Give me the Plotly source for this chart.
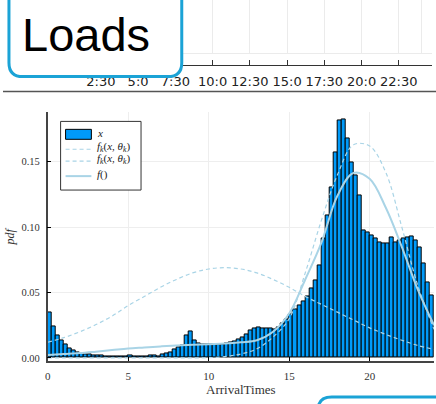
import plotly.graph_objects as go

W, H = 436, 404

# Arrival-time histogram (pdf normalised), 0.25 h bins over 0..24 h
bin_start = 0.0
bin_width = 0.25
pdf_values = [
    0.035, 0.024, 0.017, 0.013, 0.010, 0.0075, 0.0058, 0.0045, 0.0038,
    0.003, 0.0028, 0.0022, 0.002, 0.0018, 0.0015, 0.0014, 0.0012, 0.0012, 0.0011, 0.001,
    0.0018, 0.0011, 0.0009, 0.001, 0.0012, 0.0022, 0.0016, 0.0015,
    0.0025, 0.0035, 0.0045, 0.0065, 0.0080, 0.0092,
    0.0175, 0.0205, 0.0137,
    0.0112, 0.0105, 0.0102, 0.0101, 0.0101, 0.0103, 0.0106, 0.0110, 0.0118, 0.0128, 0.0140,
    0.0160, 0.0182, 0.0210, 0.0228, 0.0235, 0.0225, 0.0222, 0.0222, 0.0218, 0.0235, 0.0262,
    0.0295, 0.0330, 0.0370,
    0.0403, 0.0429, 0.0467, 0.0530, 0.0594, 0.0708, 0.0911, 0.1089, 0.1304, 0.1571,
    0.1819, 0.1824, 0.1677, 0.1495, 0.1393, 0.1241, 0.0974, 0.0962, 0.0936, 0.0916,
    0.0886, 0.0873, 0.0873, 0.0924, 0.0886, 0.0898, 0.0911, 0.0924, 0.0931, 0.0898,
    0.0848, 0.0721, 0.0581, 0.0480,
]

# Fitted component densities and the mixture, sampled hourly
curve_hours = list(range(25))
f_k1 = [0.012, 0.0155, 0.020, 0.0255, 0.032, 0.040, 0.047, 0.054, 0.060, 0.065,
        0.068, 0.069, 0.068, 0.065, 0.060, 0.054, 0.047, 0.041, 0.035, 0.029,
        0.023, 0.018, 0.0135, 0.0095, 0.0065]
f_k2 = [0.0, 0.0, 0.0, 0.0, 0.0, 0.0, 0.0, 0.0, 0.0, 0.0,
        0.0002, 0.001, 0.003, 0.007, 0.016, 0.030, 0.065, 0.105, 0.140, 0.163,
        0.162, 0.142, 0.100, 0.055, 0.022]
f_mix = [0.0023, 0.003, 0.0037, 0.0048, 0.006, 0.0072, 0.008, 0.0088, 0.0095, 0.010,
         0.0105, 0.011, 0.012, 0.0135, 0.020, 0.034, 0.060, 0.088, 0.124, 0.1415,
         0.137, 0.115, 0.085, 0.052, 0.025]

# Legend entries
legend_labels = [
    "<i>x</i>",
    "<i>f<sub>k</sub></i>(<i>x</i>, <i>θ<sub>k</sub></i>)",
    "<i>f<sub>k</sub></i>(<i>x</i>, <i>θ<sub>k</sub></i>)",
    "<i>f</i>()",
]

# Time axis of the load strip above
load_tick_hours = [2.5, 5, 7.5, 10, 12.5, 15, 17.5, 20, 22.5]
load_tick_labels = ["2:30", "5:0", "7:30", "10:0", "12:30", "15:0", "17:30", "20:0", "22:30"]

bin_centers = [bin_start + (i + 0.5) * bin_width for i in range(len(pdf_values))]


def px(x):
    return x / W


def py(y):
    return 1 - y / H


def rounded_box(left, right, top, bottom, r):
    return (f"M {px(left)},{py(top)} L {px(left)},{py(bottom - r)} "
            f"Q {px(left)},{py(bottom)} {px(left + r)},{py(bottom)} "
            f"L {px(right - r)},{py(bottom)} "
            f"Q {px(right)},{py(bottom)} {px(right)},{py(bottom - r)} "
            f"L {px(right)},{py(top)} Z")


def top_left_corner(left, top, r, right, bottom):
    return (f"M {px(left)},{py(bottom)} L {px(left)},{py(top + r)} "
            f"Q {px(left)},{py(top)} {px(left + r)},{py(top)} L {px(right)},{py(top)}")


SERIF = "Liberation Serif"
BAR_BLUE = "#009af9"
LIGHT = "#a9d4e6"
DASH = "4px,3px"

fig = go.Figure()

fig.add_trace(go.Bar(
    x=bin_centers, y=pdf_values, width=bin_width,
    marker=dict(color=BAR_BLUE, line=dict(color="black", width=1)),
    name=legend_labels[0], showlegend=False,
))
fig.add_trace(go.Scatter(
    x=curve_hours, y=f_k1, mode="lines",
    line=dict(color=LIGHT, width=1.2, dash=DASH, shape="spline"),
    name=legend_labels[1], showlegend=False,
))
fig.add_trace(go.Scatter(
    x=curve_hours, y=f_k2, mode="lines",
    line=dict(color=LIGHT, width=1.2, dash=DASH, shape="spline"),
    name=legend_labels[2], showlegend=False,
))
fig.add_trace(go.Scatter(
    x=curve_hours, y=f_mix, mode="lines",
    line=dict(color=LIGHT, width=2, shape="spline"),
    name=legend_labels[3], showlegend=False,
))

# empty traces so the strip subplots are laid out
fig.add_trace(go.Scatter(x=[], y=[], xaxis="x2", yaxis="y2", showlegend=False))
fig.add_trace(go.Scatter(x=[], y=[], xaxis="x3", yaxis="y3", showlegend=False))

strip_range = [0, 24.73]

fig.update_layout(
    width=W, height=H,
    margin=dict(l=0, r=0, t=0, b=0),
    paper_bgcolor="white", plot_bgcolor="white",
    bargap=0,
    showlegend=False,
    xaxis=dict(
        domain=[px(45), px(434)], range=[0, 24], anchor="y",
        tickvals=[0, 5, 10, 15, 20], ticks="inside", ticklen=4, tickcolor="black",
        showline=True, linecolor="#444", linewidth=1.5,
        showgrid=True, gridcolor="#eeeeee", gridwidth=1, zeroline=False,
        tickfont=dict(family=SERIF, size=11, color="#333"), ticklabelstandoff=4,
        title=dict(text="ArrivalTimes", font=dict(family=SERIF, size=13, color="#333"), standoff=4),
    ),
    yaxis=dict(
        domain=[py(363), py(113)], range=[-0.0025, 0.1877], anchor="x",
        tickvals=[0, 0.05, 0.10, 0.15], ticktext=["0.00", "0.05", "0.10", "0.15"],
        ticks="inside", ticklen=4, tickcolor="black",
        showline=True, linecolor="#444", linewidth=1.5,
        showgrid=True, gridcolor="#eeeeee", gridwidth=1, zeroline=False,
        tickfont=dict(family=SERIF, size=10.5, color="#333"), ticklabelstandoff=4,
        title=dict(text="<i>pdf</i>", font=dict(family=SERIF, size=12, color="#333"), standoff=4),
    ),
    xaxis2=dict(
        domain=[px(61), px(432)], range=strip_range, anchor="y2",
        tickvals=load_tick_hours, ticktext=load_tick_labels,
        ticks="inside", ticklen=5, tickcolor="#333",
        showline=True, linecolor="#333", linewidth=1,
        showgrid=False, zeroline=False,
        tickfont=dict(family="DejaVu Sans", size=13, color="#222"), ticklabelstandoff=5,
    ),
    yaxis2=dict(domain=[py(65), 1], range=[0, 1], anchor="x2", visible=False),
    xaxis3=dict(
        domain=[px(61), px(432)], range=strip_range, anchor="y3",
        tickvals=load_tick_hours, showticklabels=False, ticks="",
        showline=True, linecolor="#ebebeb", linewidth=1,
        showgrid=True, gridcolor="#ebebeb", gridwidth=1, zeroline=False,
        minor=dict(tickvals=[24], showgrid=True, gridcolor="#ebebeb", ticks=""),
    ),
    yaxis3=dict(domain=[py(53), 1], range=[0, 1], anchor="x3", visible=False),
)

# legend panel
fig.add_shape(type="rect", xref="paper", yref="paper",
              x0=px(58), x1=px(139), y0=py(191), y1=py(122),
              fillcolor="white", line=dict(color="#333", width=1))
fig.add_shape(type="rect", xref="paper", yref="paper",
              x0=px(63), x1=px(89), y0=py(140), y1=py(130),
              fillcolor=BAR_BLUE, line=dict(color="black", width=1))
for ly, dash, lw in [(150, DASH, 1.2), (162, DASH, 1.2), (177, "solid", 2)]:
    fig.add_shape(type="line", xref="paper", yref="paper",
                  x0=px(63), x1=px(89), y0=py(ly), y1=py(ly),
                  line=dict(color=LIGHT, width=lw, dash=dash))
for ly, label in zip([134, 148, 160, 175], legend_labels):
    fig.add_annotation(text=label, xref="paper", yref="paper",
                       x=px(93), y=py(ly), xanchor="left", yanchor="middle", showarrow=False,
                       font=dict(family=SERIF, size=11, color="#222"))

# separator rule between the two panels
fig.add_shape(type="line", xref="paper", yref="paper",
              x0=0, x1=1, y0=py(92), y1=py(92), line=dict(color="#555", width=1.5))

# label boxes
fig.add_shape(type="path", xref="paper", yref="paper",
              path=rounded_box(6, 180, -20, 77, 14),
              fillcolor="white", line=dict(color="#1ba3d6", width=3))
fig.add_shape(type="path", xref="paper", yref="paper",
              path=top_left_corner(317, 399, 14, 470, 440),
              fillcolor="rgba(0,0,0,0)", line=dict(color="#1ba3d6", width=3))

fig.add_annotation(text="Loads", xref="paper", yref="paper",
                   x=px(84), y=py(35), xanchor="center", yanchor="middle", showarrow=False,
                   font=dict(family="Liberation Sans", size=47, color="black"))

fig.write_html("out.html")
